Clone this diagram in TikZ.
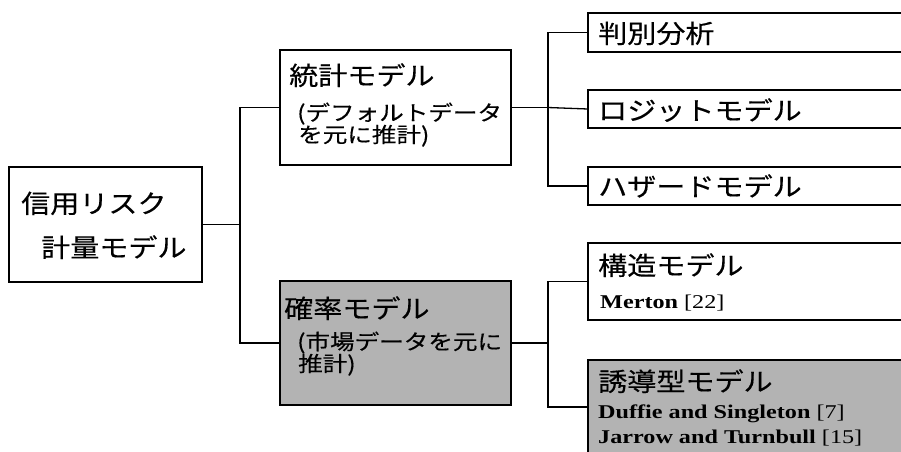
\documentclass[tikz,border=0pt]{standalone}
\usepackage{fontspec}
\setmainfont{Noto Sans CJK JP}
\newfontfamily\jptitle[FakeStretch=1.14,FakeBold=0.4]{Noto Sans CJK JP}
\newfontfamily\jpsub[FakeStretch=1.17,FakeBold=0.4]{Noto Sans CJK JP}
\newfontfamily\refserif[FakeStretch=1.24]{Liberation Serif}
\definecolor{boxgray}{RGB}{179,179,179}
\begin{document}
\begin{tikzpicture}[x=1pt,y=-1pt,
  box/.style={draw=black,line width=1.3pt,rectangle,inner sep=0pt,outer sep=0pt},
  graybox/.style={box,fill=boxgray},
  conn/.style={draw=black,line width=1.3pt},
  ttl/.style={anchor=base west,inner sep=0pt,font=\fontsize{25.5}{25.5}\selectfont\jptitle},
  sub/.style={anchor=base west,inner sep=0pt,font=\fontsize{21}{21}\selectfont\jpsub},
  ref/.style={anchor=base west,inner sep=0pt,font=\fontsize{19.5}{19.5}\selectfont\refserif}]
\useasboundingbox (0,0) rectangle (901,451);
\clip (0,0) rectangle (901,451);
% boxes
\node[box,minimum width=193pt,minimum height=115pt] (root) at (105.5,224.5) {};
\node[box,minimum width=231pt,minimum height=115pt] (stat) at (395.5,107.5) {};
\node[graybox,minimum width=231pt,minimum height=124pt] (prob) at (395.5,343) {};
\node[box,minimum width=317pt,minimum height=39pt] (disc) at (746.5,32.5) {};
\node[box,minimum width=317pt,minimum height=38pt] (logit) at (746.5,109) {};
\node[box,minimum width=317pt,minimum height=38pt] (haz) at (746.5,186) {};
\node[box,minimum width=317pt,minimum height=77pt] (struct) at (746.5,281.5) {};
\node[graybox,minimum width=317pt,minimum height=94pt] (red) at (746.5,407) {};
% texts
\node[ttl] (t1) at (21,213) {信用リスク};
\node[ttl] (t2) at (41,257) {計量モデル};
\node[ttl] (t3) at (289,85) {統計モデル};
\node[sub] (t4) at (297,120.5) {(デフォルトデータ};
\node[sub] (t5) at (298,142.5) {を元に推計)};
\node[ttl] (t6) at (284,318) {確率モデル};
\node[sub] (t7) at (297,349.5) {(市場データを元に};
\node[sub] (t8) at (298,371.5) {推計)};
\node[ttl] (t9) at (598,43) {判別分析};
\node[ttl] (t10) at (598,120) {ロジットモデル};
\node[ttl] (t11) at (598,196) {ハザードモデル};
\node[ttl] (t12) at (598,275) {構造モデル};
\node[ref] (t13) at (600,308) {\textbf{Merton} [22]};
\node[ttl] (t14) at (598,391) {誘導型モデル};
\node[ref] (t15) at (598,418) {\textbf{Duffie and Singleton} [7]};
\node[ref] (t16) at (598,443) {\textbf{Jarrow and Turnbull} [15]};
% junctions
\coordinate (j1) at (240,224.5);
\coordinate (j2) at (548,107.5);
\coordinate (j3) at (548,343);
% connectors
\draw[conn] (root.east) -- (j1);
\draw[conn] (stat.west) -| (j1) |- (prob.west);
\draw[conn] (stat.east) -- (j2);
\draw[conn] (disc.west) -| (j2) |- (haz.west);
\draw[conn] (j2) -- (logit.west);
\draw[conn] (prob.east) -- (j3);
\draw[conn] (struct.west) -| (j3) |- (red.west);
\end{tikzpicture}
\end{document}
